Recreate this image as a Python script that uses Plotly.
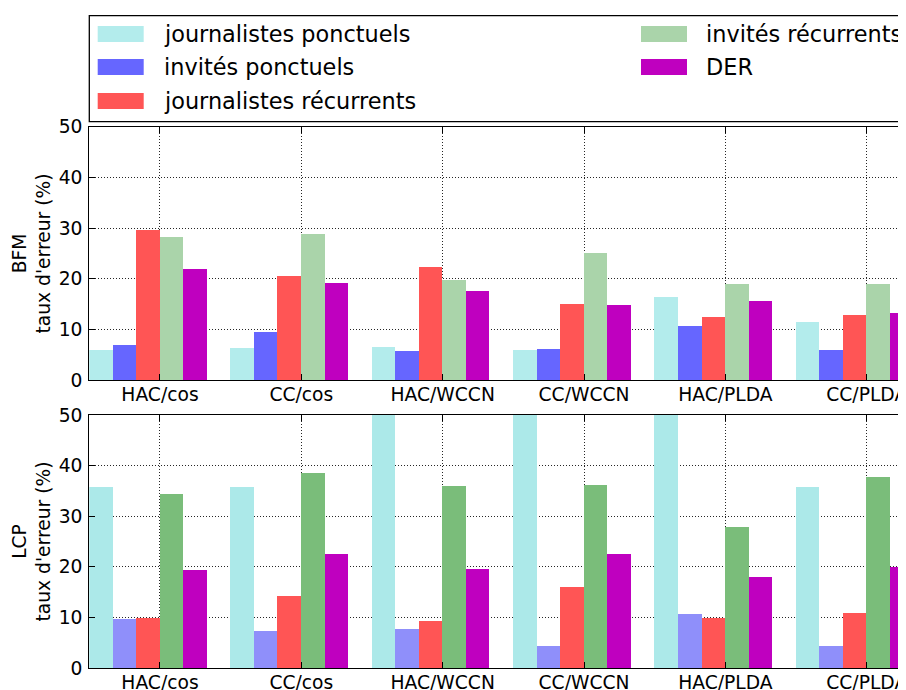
import plotly.graph_objects as go
from plotly.subplots import make_subplots

# categories and series
categories = ['HAC/cos', 'CC/cos', 'HAC/WCCN', 'CC/WCCN', 'HAC/PLDA', 'CC/PLDA']
series = ['journalistes ponctuels', 'invités ponctuels', 'journalistes récurrents',
          'invités récurrents', 'DER']

# BFM error rates (%)
bfm_journ_ponct = [6.0, 6.4, 6.6, 6.0, 16.4, 11.5]
bfm_inv_ponct = [7.0, 9.5, 5.8, 6.2, 10.7, 6.0]
bfm_journ_rec = [29.6, 20.6, 22.3, 15.2, 12.5, 12.9]
bfm_inv_rec = [28.3, 29.0, 19.8, 25.1, 19.0, 19.0]
bfm_der = [22.1, 19.2, 17.6, 15.0, 15.6, 13.3]

# LCP error rates (%) - three "journalistes ponctuels" bars go off the top of the axis
lcp_journ_ponct = [35.8, 35.8, 60.0, 60.0, 60.0, 35.8]
lcp_inv_ponct = [9.7, 7.3, 7.7, 4.3, 10.7, 4.3]
lcp_journ_rec = [9.9, 14.2, 9.3, 16.0, 9.9, 10.9]
lcp_inv_rec = [34.4, 38.5, 36.0, 36.2, 27.9, 37.7]
lcp_der = [19.4, 22.5, 19.6, 22.5, 18.0, 20.0]

bfm = [bfm_journ_ponct, bfm_inv_ponct, bfm_journ_rec, bfm_inv_rec, bfm_der]
lcp = [lcp_journ_ponct, lcp_inv_ponct, lcp_journ_rec, lcp_inv_rec, lcp_der]

colors_bfm = ['#b3ecec', '#6666ff', '#ff5555', '#aad4aa', '#bf00bf']
colors_lcp = ['#ace9e9', '#8f8ffa', '#ff5555', '#7abd7a', '#bf00bf']

# the page body has an 8px margin, so the figure is sized to the visible part
OFF = 8
W, H = 906 - OFF, 690 - OFF
FONT = 'DejaVu Sans'
BAR_W = 1.0 / 6


def px_x(p):
    return (p - OFF) / W


def px_y(p):
    return 1 - (p - OFF) / H


fig = make_subplots(rows=2, cols=1)

for row, (data, colors) in enumerate([(bfm, colors_bfm), (lcp, colors_lcp)], start=1):
    for k, (name, vals) in enumerate(zip(series, data)):
        fig.add_trace(
            go.Bar(
                x=[i + k * BAR_W for i in range(len(categories))],
                y=vals,
                width=BAR_W,
                offset=0,
                name=name,
                marker=dict(color=colors[k], line=dict(width=0)),
                showlegend=False,
                hoverinfo='x+y+name',
            ),
            row=row, col=1
        )

# axes
x_left = px_x(89.3)
fig.update_xaxes(
    domain=[x_left, 1],
    range=[0, 5.778],
    tickvals=[i + 0.5 for i in range(len(categories))],
    ticktext=categories,
    ticks='inside', ticklen=6, tickcolor='black',
    showline=True, linecolor='black', linewidth=1.3, mirror='ticks',
    showgrid=True, gridcolor='rgba(0,0,0,0.85)', gridwidth=1, griddash='1px,2px',
    zeroline=False, automargin=False, ticklabelstandoff=-3,
    ticklabeloverflow='allow',
    tickfont=dict(family=FONT, size=18.7, color='black'),
)
fig.update_yaxes(
    range=[0, 50],
    tickvals=[0, 10, 20, 30, 40, 50],
    ticks='inside', ticklen=6, tickcolor='black',
    showline=True, linecolor='black', linewidth=1.3, mirror=False,
    showgrid=True, gridcolor='rgba(0,0,0,0.85)', gridwidth=1, griddash='1px,2px',
    zeroline=False, automargin=False, ticklabelstandoff=2,
    ticklabeloverflow='allow',
    tickfont=dict(family=FONT, size=18.7, color='black'),
)
fig.update_yaxes(domain=[px_y(380.3), px_y(126.7)], row=1, col=1)
fig.update_yaxes(domain=[px_y(668), px_y(415)], row=2, col=1)

# y-axis titles (two lines, rotated)
for label, (top, bot) in [('BFM', (126.7, 380.3)), ('LCP', (415, 668))]:
    fig.add_annotation(text=label + "<br>taux d'erreur (%)", xref='paper', yref='paper',
                       x=px_x(31), y=px_y((top + bot) / 2), textangle=-90,
                       xanchor='center', yanchor='middle', showarrow=False,
                       font=dict(family=FONT, size=18.7, color='black'))

# legend drawn as a box at the top (2 columns, filled column by column)
fig.add_shape(type='rect', xref='paper', yref='paper',
              x0=x_left, x1=1.05, y0=px_y(121.7), y1=px_y(15.7),
              line=dict(color='black', width=1.3), fillcolor='white', layer='above')

row_centers = [34, 67, 101]
col_swatch = [97.7, 641]
col_text = [161.5, 704]
for k, name in enumerate(series):
    c, r = divmod(k, 3)
    yc = row_centers[r]
    fig.add_shape(type='rect', xref='paper', yref='paper',
                  x0=px_x(col_swatch[c]), x1=px_x(col_swatch[c] + 46),
                  y0=px_y(yc + 8), y1=px_y(yc - 8),
                  line=dict(width=0), fillcolor=colors_bfm[k], layer='above')
    fig.add_annotation(text=name, xref='paper', yref='paper',
                       x=px_x(col_text[c]), y=px_y(yc), xanchor='left', yanchor='middle',
                       showarrow=False,
                       font=dict(family=FONT, size=22.4, color='black'))

fig.update_layout(
    template='none',
    width=W, height=H,
    margin=dict(l=0, r=0, t=0, b=0, pad=0),
    barmode='overlay',
    bargap=0,
    plot_bgcolor='white',
    paper_bgcolor='white',
    font=dict(family=FONT, color='black'),
)

fig.write_html("out.html")
